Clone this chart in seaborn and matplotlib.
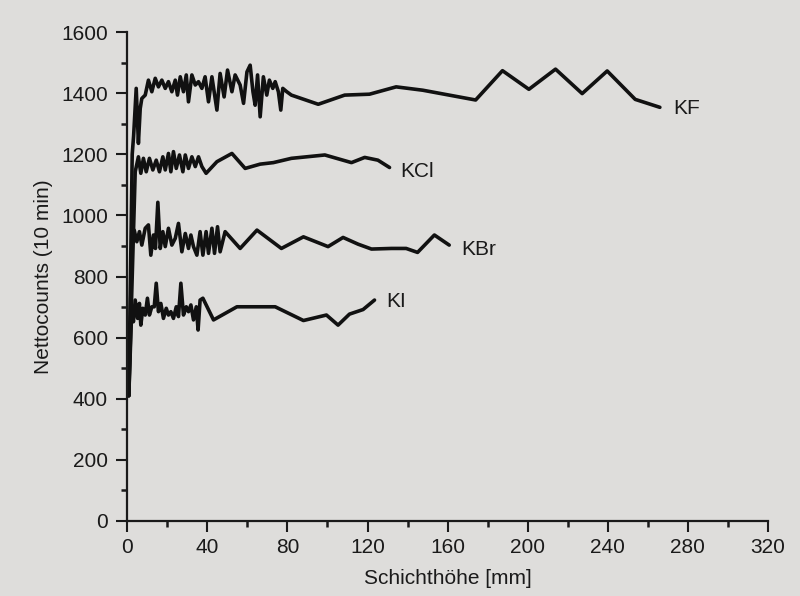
import pandas as pd
import numpy as np
import seaborn as sns
import matplotlib.pyplot as plt

# Schichthöhe [mm] / Nettocounts (10 min)
kf_x = [0.8, 2.5, 3.2, 4.5, 5.6, 6.5, 7.3, 9, 10.6, 12.3, 14, 15.6, 17.3, 19, 20.6, 22.3, 24, 25.1,
        26.5, 28.1, 29.5, 30.6, 32.3, 34, 35.6, 37.3, 38.9, 40.6, 42.3, 44.8, 46.4, 48.4, 50.1, 52.3,
        53.9, 56.4, 58.1, 59.8, 61.4, 62.8, 63.9, 65.1, 66.4, 68, 69.7, 71, 72.7, 73.9, 75.5, 76.7,
        77.7, 79.7, 82, 95.4, 108.6, 121, 134.3, 147.6, 174, 187.4, 200.6, 213.9, 227.2, 239.7,
        253.7, 266]
kf_y = [410, 1200, 1260, 1416, 1236, 1350, 1383, 1394, 1443, 1405, 1449, 1421, 1443, 1416, 1438, 1405,
        1443, 1394, 1454, 1405, 1460, 1372, 1460, 1427, 1438, 1416, 1454, 1372, 1454, 1345, 1465, 1388,
        1476, 1405, 1460, 1427, 1367, 1470, 1492, 1405, 1361, 1460, 1323, 1454, 1394, 1443, 1416, 1438,
        1405, 1345, 1416, 1405, 1394, 1364, 1394, 1397, 1421, 1410, 1378, 1474, 1413, 1479, 1399, 1473,
        1380, 1354]

kcl_x = [0.8, 4, 5.6, 6.8, 8.1, 9.5, 11.1, 12.8, 14.5, 16.1, 17.8, 19, 20.6, 21.8, 23.1, 24.5, 26.1,
         27.8, 29, 30.6, 32.3, 34, 35.6, 37.3, 39.4, 44.8, 52.3, 58.9, 66.4, 73, 82, 98.7, 112, 118.6,
         125.2, 131]
kcl_y = [410, 1143, 1192, 1138, 1187, 1143, 1187, 1149, 1181, 1143, 1192, 1149, 1203, 1143, 1209, 1154,
         1198, 1143, 1198, 1154, 1192, 1160, 1192, 1160, 1138, 1176, 1203, 1154, 1168, 1173, 1187, 1198,
         1173, 1190, 1181, 1157]

kbr_x = [0.8, 2.3, 3.5, 4.8, 6.1, 7.3, 9, 10.6, 11.8, 13.1, 14.1, 15.3, 16.5, 17.8, 19, 20.6, 22.3, 24,
         25.6, 27.3, 29, 30.6, 31.8, 33.1, 34.8, 36.4, 37.8, 39.4, 40.6, 42.3, 43.6, 45.1, 46.4, 48.9,
         56.4, 64.8, 77, 88, 100.3, 107.8, 115.3, 122, 132, 139.3, 145, 153.4, 160.8]
kbr_y = [410, 903, 952, 914, 947, 903, 958, 969, 870, 936, 892, 1043, 892, 947, 898, 958, 903, 925, 974,
         881, 941, 892, 936, 898, 870, 947, 870, 947, 876, 958, 876, 963, 881, 947, 892, 952, 892, 930,
         898, 928, 906, 890, 892, 892, 879, 936, 903]

ki_x = [0.8, 2.3, 3.1, 4, 5.2, 6.1, 6.8, 7.8, 9, 10.1, 11.1, 12.3, 13.5, 14.5, 15.6, 16.8, 18.1, 19.5,
        20.6, 21.8, 23.1, 24.5, 25.6, 26.8, 28.1, 29.5, 30.6, 31.8, 33.1, 34.5, 35.4, 36.4, 37.8, 43.1,
        54.8, 73.9, 88, 99.5, 105.3, 111, 117.8, 123.5]
ki_y = [410, 701, 652, 723, 663, 712, 641, 696, 674, 729, 674, 701, 701, 778, 685, 712, 663, 696, 674,
        685, 663, 701, 669, 778, 674, 701, 685, 707, 658, 701, 625, 723, 729, 658, 701, 701, 656, 674,
        641, 677, 692, 723]

series = ["KF", "KCl", "KBr", "KI"]
label_x = [272.7, 136.3, 167, 129.6]
label_y = [1350, 1143, 887, 718]

frames = []
for name, xs, ys in zip(series, [kf_x, kcl_x, kbr_x, ki_x], [kf_y, kcl_y, kbr_y, ki_y]):
    frames.append(pd.DataFrame({"Schicht": xs, "Counts": ys, "Salz": name}))
df = pd.concat(frames, ignore_index=True)

sns.set_style("ticks")
bg = "#dedddb"
plt.rcParams["font.family"] = ["Liberation Sans", "DejaVu Sans"]

fig = plt.figure(figsize=(8, 5.96), dpi=100, facecolor=bg)
ax = fig.add_axes([0.159, 0.126, 0.801, 0.820])
ax.set_facecolor(bg)

sns.lineplot(data=df, x="Schicht", y="Counts", hue="Salz", units="Salz", estimator=None, sort=False,
             palette=["#111111"] * 4, linewidth=2.6, legend=False, ax=ax)

for name, lx, ly in zip(series, label_x, label_y):
    ax.text(lx, ly, name, fontsize=15, va="center", ha="left", color="#1a1a1a")

ax.set_xlim(0, 320)
ax.set_ylim(0, 1600)
ax.set_xticks(np.arange(0, 321, 40))
ax.set_xticks(np.arange(0, 321, 20), minor=True)
ax.set_yticks(np.arange(0, 1601, 200))
ax.set_yticks(np.arange(0, 1601, 100), minor=True)
ax.tick_params(which="major", length=8, width=1.5, labelsize=15, colors="#1a1a1a")
ax.tick_params(axis="y", which="major", pad=6)
ax.tick_params(axis="x", which="major", pad=4)
ax.tick_params(which="minor", length=4, width=1.8, colors="#1a1a1a")
ax.set_xlabel("Schichthöhe [mm]", fontsize=15, color="#1a1a1a", labelpad=9)
ax.set_ylabel("Nettocounts (10 min)", fontsize=15, color="#1a1a1a", labelpad=6)
sns.despine(ax=ax)
for s in ["left", "bottom"]:
    ax.spines[s].set_linewidth(1.6)
    ax.spines[s].set_color("#1a1a1a")

fig.savefig("out.png", dpi=100, facecolor=bg)
